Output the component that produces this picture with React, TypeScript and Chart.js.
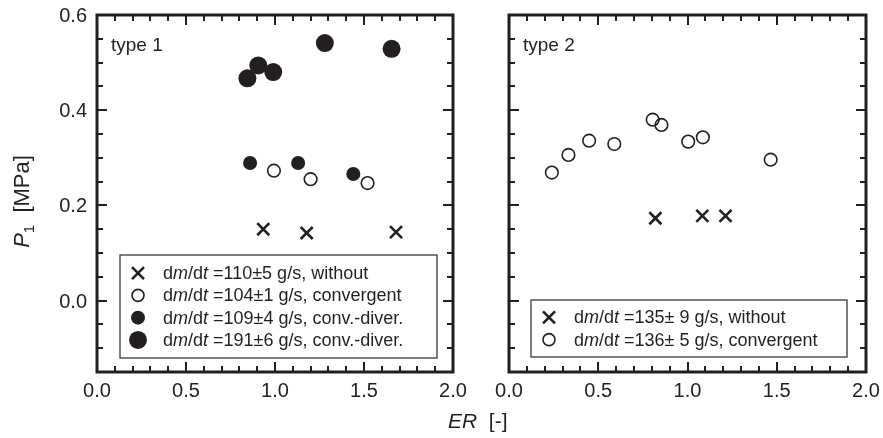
import React, { useEffect, useRef } from "react";
import { Chart, registerables } from "chart.js";
Chart.register(...registerables);

// ---------- data ----------
const t1WithoutX = [0.934, 1.178, 1.68];
const t1WithoutY = [0.15, 0.142, 0.144];
const t1ConvX = [0.994, 1.2, 1.52];
const t1ConvY = [0.273, 0.255, 0.247];
const t1CD109X = [0.86, 1.13, 1.44];
const t1CD109Y = [0.289, 0.289, 0.266];
const t1CD191X = [0.845, 0.906, 0.99, 1.28, 1.655];
const t1CD191Y = [0.467, 0.494, 0.48, 0.541, 0.529];

const t2WithoutX = [0.82, 1.083, 1.213];
const t2WithoutY = [0.173, 0.178, 0.178];
const t2ConvX = [0.24, 0.333, 0.449, 0.59, 0.805, 0.854, 1.004, 1.086, 1.466];
const t2ConvY = [0.269, 0.306, 0.336, 0.329, 0.38, 0.369, 0.334, 0.343, 0.296];

const xTicks = [0, 0.5, 1.0, 1.5, 2.0];
const yTicks = [0, 0.2, 0.4, 0.6];
const xRange = [0, 2];
const yRange = [-0.15, 0.6];

const type1Legend = ["=110±5 g/s, without", "=104±1 g/s, convergent", "=109±4 g/s, conv.-diver.", "=191±6 g/s, conv.-diver."];
const type2Legend = ["=135± 9 g/s, without", "=136± 5 g/s, convergent"];

const FONT = "'Liberation Sans', Arial, Helvetica, sans-serif";
const INK = "#231f20";

type Marker = "cross" | "open" | "small" | "large";

const markerStyle: Record<Marker, any> = {
  cross: { pointStyle: "crossRot", pointRadius: 8.5, borderWidth: 2.6, borderColor: INK, backgroundColor: INK },
  open: { pointStyle: "circle", pointRadius: 6.3, borderWidth: 1.6, borderColor: INK, backgroundColor: "rgba(255,255,255,0)" },
  small: { pointStyle: "circle", pointRadius: 7, borderWidth: 0, borderColor: INK, backgroundColor: INK },
  large: { pointStyle: "circle", pointRadius: 9, borderWidth: 0, borderColor: INK, backgroundColor: INK },
};

function ds(xs: number[], ys: number[], m: Marker) {
  const s = markerStyle[m];
  return {
    data: xs.map((x, i) => ({ x, y: ys[i] })),
    showLine: false,
    pointHoverRadius: s.pointRadius,
    ...s,
  };
}

function drawMarker(ctx: CanvasRenderingContext2D, m: Marker, x: number, y: number) {
  ctx.save();
  ctx.strokeStyle = INK;
  ctx.fillStyle = INK;
  if (m === "cross") {
    const a = 6;
    ctx.lineWidth = 2.6;
    ctx.beginPath();
    ctx.moveTo(x - a, y - a);
    ctx.lineTo(x + a, y + a);
    ctx.moveTo(x + a, y - a);
    ctx.lineTo(x - a, y + a);
    ctx.stroke();
  } else if (m === "open") {
    ctx.lineWidth = 1.6;
    ctx.beginPath();
    ctx.arc(x, y, 6, 0, Math.PI * 2);
    ctx.stroke();
  } else {
    ctx.beginPath();
    ctx.arc(x, y, m === "small" ? 7 : 9, 0, Math.PI * 2);
    ctx.fill();
  }
  ctx.restore();
}

function drawDmDt(ctx: CanvasRenderingContext2D, x: number, y: number, rest: string, size: number) {
  const parts: [string, boolean][] = [["d", false], ["m", true], ["/d", false], ["t", true], [" " + rest, false]];
  let cx = x;
  ctx.textBaseline = "middle";
  ctx.textAlign = "left";
  ctx.fillStyle = INK;
  for (const [t, it] of parts) {
    ctx.font = `${it ? "italic " : ""}${size}px ${FONT}`;
    ctx.fillText(t, cx, y);
    cx += ctx.measureText(t).width;
  }
}

function framePlugin(opts: {
  label: string;
  legend: { markers: Marker[]; texts: string[]; box: [number, number, number, number] };
  yLabels: boolean;
}) {
  return {
    id: "frame",
    afterDatasetsDraw(chart: any) {
      const { ctx, chartArea: a, scales } = chart;
      const xs = scales.x, ys = scales.y;
      ctx.save();
      // ticks
      ctx.strokeStyle = INK;
      ctx.lineWidth = 2;
      ctx.beginPath();
      for (let i = 0; i <= 20; i++) {
        const v = i / 10;
        const px = Math.round(xs.getPixelForValue(v));
        const len = i % 5 === 0 ? 10 : 6;
        ctx.moveTo(px, a.bottom);
        ctx.lineTo(px, a.bottom - len);
        ctx.moveTo(px, a.top);
        ctx.lineTo(px, a.top + len);
      }
      for (let i = -3; i <= 12; i++) {
        const v = i * 0.05;
        const py = Math.round(ys.getPixelForValue(v));
        const len = i % 4 === 0 ? 10 : 6;
        ctx.moveTo(a.left, py);
        ctx.lineTo(a.left + len, py);
        ctx.moveTo(a.right, py);
        ctx.lineTo(a.right - len, py);
      }
      ctx.stroke();
      // frame
      ctx.lineWidth = 3;
      ctx.strokeRect(a.left, a.top, a.right - a.left, a.bottom - a.top);

      // tick labels
      ctx.fillStyle = INK;
      ctx.font = `20px ${FONT}`;
      ctx.textBaseline = "alphabetic";
      ctx.textAlign = "center";
      xTicks.forEach((v) => {
        ctx.fillText(v.toFixed(1), xs.getPixelForValue(v), a.bottom + 25);
      });
      if (opts.yLabels) {
        ctx.textAlign = "right";
        yTicks.forEach((v) => {
          ctx.fillText(v.toFixed(1), a.left - 10, ys.getPixelForValue(v) + 7);
        });
      }

      // type label
      ctx.font = `19px ${FONT}`;
      ctx.textAlign = "left";
      ctx.fillText(opts.label, a.left + 14, a.top + 36);

      // legend
      const [bl, bt, br, bb] = opts.legend.box;
      const L = a.left + bl, T = a.top + bt, R = a.right - br, B = a.bottom - bb;
      ctx.fillStyle = "#fff";
      ctx.fillRect(L, T, R - L, B - T);
      ctx.strokeStyle = "#3a3a3a";
      ctx.lineWidth = 1.3;
      ctx.strokeRect(L, T, R - L, B - T);
      const n = opts.legend.texts.length;
      const rowH = 22.3;
      const y0 = (T + B) / 2 - ((n - 1) * rowH) / 2;
      opts.legend.texts.forEach((t, i) => {
        const y = y0 + i * rowH;
        drawMarker(ctx, opts.legend.markers[i], L + 18, y);
        drawDmDt(ctx, L + 43, y + 1, t, 18);
      });

      // y title
      if (opts.yLabels) {
        ctx.save();
        ctx.translate(29, (a.top + a.bottom) / 2 + 8);
        ctx.rotate(-Math.PI / 2);
        ctx.fillStyle = INK;
        ctx.textBaseline = "alphabetic";
        ctx.textAlign = "left";
        const segs: [string, string, number][] = [
          ["P", `italic 22px ${FONT}`, 0],
          ["1", `15px ${FONT}`, 5],
          ["  [MPa]", `22px ${FONT}`, 0],
        ];
        let w = 0;
        for (const [t, f] of segs) { ctx.font = f; w += ctx.measureText(t).width; }
        let cx = -w / 2;
        for (const [t, f, dy] of segs) {
          ctx.font = f;
          ctx.fillText(t, cx, dy);
          cx += ctx.measureText(t).width;
        }
        ctx.restore();
      }
      ctx.restore();
    },
  };
}

function options(leftW: number, rightPad: number) {
  return {
    animation: false,
    responsive: false,
    maintainAspectRatio: false,
    layout: { padding: { top: 15, right: rightPad, left: 0, bottom: 0 } },
    plugins: { legend: { display: false }, tooltip: { enabled: false } },
    events: [],
    scales: {
      x: {
        type: "linear",
        min: xRange[0],
        max: xRange[1],
        grid: { display: false, drawTicks: false },
        border: { display: false },
        ticks: { display: false },
        afterFit: (s: any) => { s.height = 66; },
      },
      y: {
        type: "linear",
        min: yRange[0],
        max: yRange[1],
        grid: { display: false, drawTicks: false },
        border: { display: false },
        ticks: { display: false },
        afterFit: (s: any) => { s.width = leftW; },
      },
    },
  };
}

export default function App() {
  const leftRef = useRef<HTMLCanvasElement>(null);
  const rightRef = useRef<HTMLCanvasElement>(null);

  useEffect(() => {
    const c1 = new Chart(leftRef.current!, {
      type: "scatter",
      data: {
        datasets: [
          ds(t1WithoutX, t1WithoutY, "cross"),
          ds(t1ConvX, t1ConvY, "open"),
          ds(t1CD109X, t1CD109Y, "small"),
          ds(t1CD191X, t1CD191Y, "large"),
        ] as any,
      },
      options: options(97, 17) as any,
      plugins: [
        framePlugin({
          label: "type 1",
          legend: { markers: ["cross", "open", "small", "large"], texts: type1Legend, box: [23, 240, 16, 14] },
          yLabels: true,
        }),
      ],
    });
    const c2 = new Chart(rightRef.current!, {
      type: "scatter",
      data: {
        datasets: [ds(t2WithoutX, t2WithoutY, "cross"), ds(t2ConvX, t2ConvY, "open")] as any,
      },
      options: options(39, 17) as any,
      plugins: [
        framePlugin({
          label: "type 2",
          legend: { markers: ["cross", "open"], texts: type2Legend, box: [22, 285, 19, 15] },
          yLabels: false,
        }),
      ],
    });
    return () => {
      c1.destroy();
      c2.destroy();
    };
  }, []);

  return (
    <div style={{ position: "absolute", left: 0, top: 0, width: 883, height: 438, background: "#fff", overflow: "hidden" }}>
      <canvas ref={leftRef} width={470} height={438} style={{ position: "absolute", left: 0, top: 0, display: "block" }} />
      <canvas ref={rightRef} width={413} height={438} style={{ position: "absolute", left: 470, top: 0, display: "block" }} />
      <div
        style={{
          position: "absolute",
          left: 448,
          top: 410,
          fontFamily: FONT,
          fontSize: 21,
          lineHeight: 1,
          color: INK,
          whiteSpace: "pre",
        }}
      >
        <i>ER</i>
        {"  [-]"}
      </div>
    </div>
  );
}
